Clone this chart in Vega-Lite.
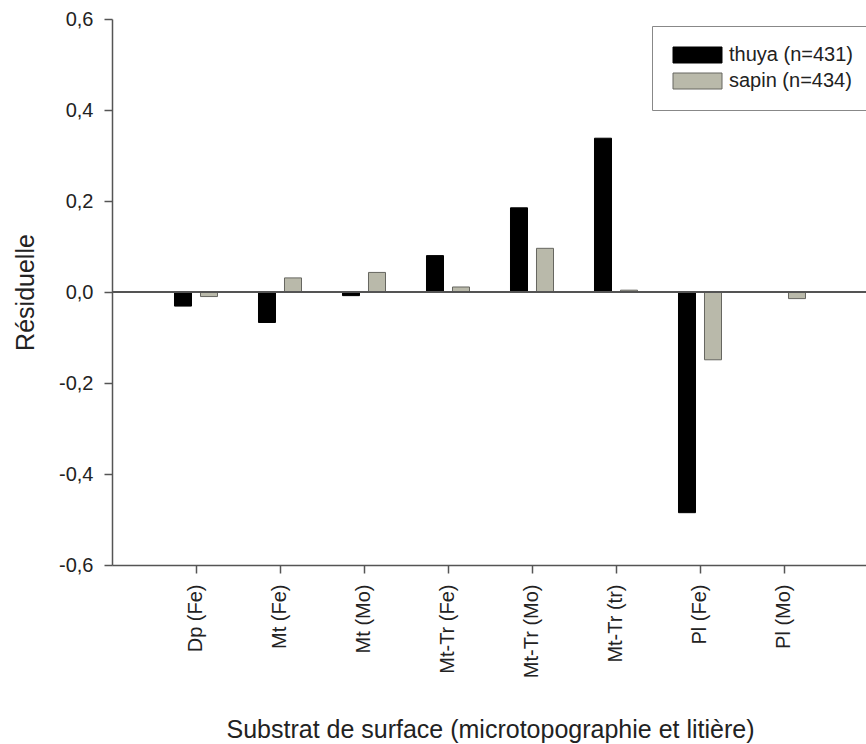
{
  "$schema": "https://vega.github.io/schema/vega-lite/v6.json",
  "width": 756,
  "height": 546,
  "autosize": {"type": "none"},
  "padding": {"left": 112, "top": 19, "right": 0, "bottom": 179},
  "background": "white",
  "config": {
    "view": {"stroke": null},
    "font": "Liberation Sans",
    "axis": {"grid": false, "domainColor": "#555", "domainWidth": 1.5, "tickColor": "#555", "tickWidth": 1.5, "labelColor": "#222", "titleColor": "#222", "labelFont": "Liberation Sans", "titleFont": "Liberation Sans", "titleFontWeight": "normal"}
  },
  "data": {
    "values": [
      {"cat": "Dp (Fe)", "sp": "thuya (n=431)", "v": -0.031},
      {"cat": "Dp (Fe)", "sp": "sapin (n=434)", "v": -0.01},
      {"cat": "Mt (Fe)", "sp": "thuya (n=431)", "v": -0.067},
      {"cat": "Mt (Fe)", "sp": "sapin (n=434)", "v": 0.031},
      {"cat": "Mt (Mo)", "sp": "thuya (n=431)", "v": -0.008},
      {"cat": "Mt (Mo)", "sp": "sapin (n=434)", "v": 0.043},
      {"cat": "Mt-Tr (Fe)", "sp": "thuya (n=431)", "v": 0.080},
      {"cat": "Mt-Tr (Fe)", "sp": "sapin (n=434)", "v": 0.011},
      {"cat": "Mt-Tr (Mo)", "sp": "thuya (n=431)", "v": 0.185},
      {"cat": "Mt-Tr (Mo)", "sp": "sapin (n=434)", "v": 0.096},
      {"cat": "Mt-Tr (tr)", "sp": "thuya (n=431)", "v": 0.338},
      {"cat": "Mt-Tr (tr)", "sp": "sapin (n=434)", "v": 0.004},
      {"cat": "Pl (Fe)", "sp": "thuya (n=431)", "v": -0.485},
      {"cat": "Pl (Fe)", "sp": "sapin (n=434)", "v": -0.149},
      {"cat": "Pl (Mo)", "sp": "thuya (n=431)", "v": 0.0},
      {"cat": "Pl (Mo)", "sp": "sapin (n=434)", "v": -0.0145}
    ]
  },
  "layer": [
    {
      "mark": {"type": "bar", "strokeWidth": 1},
      "encoding": {
        "x": {
          "field": "cat", "type": "nominal", "sort": null,
          "scale": {"paddingInner": 0, "paddingOuter": 0.5},
          "axis": {"title": "Substrat de surface (microtopographie et litière)", "labelAngle": 270, "labelFontSize": 20, "titleFontSize": 25, "tickSize": 8, "labelPadding": 11, "titlePadding": 40, "domainWidth": 1.5}
        },
        "xOffset": {
          "field": "sp", "type": "nominal", "sort": ["thuya (n=431)", "sapin (n=434)"],
          "scale": {"paddingInner": 0.346, "paddingOuter": 0.788}
        },
        "y": {
          "field": "v", "type": "quantitative",
          "scale": {"domain": [-0.6, 0.6], "nice": false, "zero": false},
          "axis": {"title": "Résiduelle", "values": [-0.6, -0.4, -0.2, 0, 0.2, 0.4, 0.6], "labelExpr": "replace(replace(format(datum.value, '.1f'), '.', ','), '\u2212', '-')", "labelFontSize": 20, "titleFontSize": 25, "tickSize": 8, "labelPadding": 11, "titlePadding": 20}
        },
        "color": {
          "field": "sp", "type": "nominal", "sort": ["thuya (n=431)", "sapin (n=434)"],
          "scale": {"domain": ["thuya (n=431)", "sapin (n=434)"], "range": ["#000000", "#b9b9aa"]},
          "legend": {
            "title": null, "orient": "none", "legendX": 540, "legendY": 7,
            "strokeColor": "#888", "padding": 19, "fillColor": "white",
            "symbolType": "M-1,-1H5.125V1H-1Z", "symbolSize": 256,
            "symbolStrokeColor": "#555", "symbolStrokeWidth": 1, "symbolOpacity": 1,
            "labelFontSize": 20, "labelColor": "#222", "labelOffset": 38, "rowPadding": 6,
            "labelFont": "Liberation Sans"
          }
        },
        "stroke": {
          "field": "sp", "type": "nominal",
          "scale": {"domain": ["thuya (n=431)", "sapin (n=434)"], "range": ["#000000", "#666660"]},
          "legend": null
        }
      }
    },
    {
      "mark": {"type": "rule", "color": "#555", "strokeWidth": 1.5},
      "encoding": {"y": {"datum": 0}}
    }
  ]
}
